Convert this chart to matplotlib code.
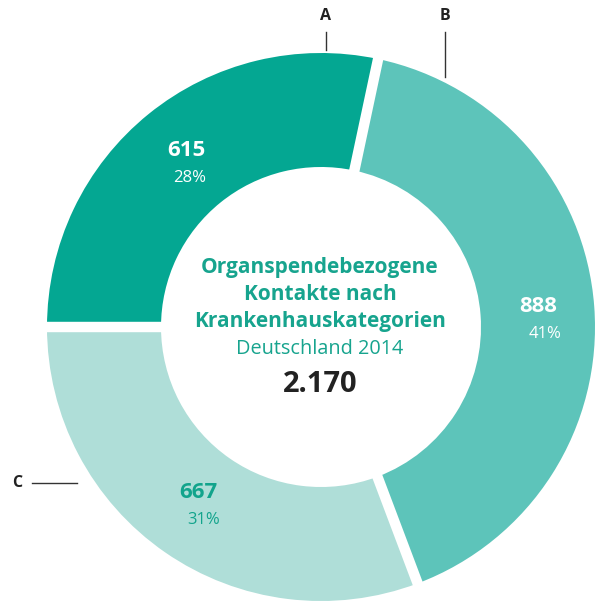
import matplotlib
matplotlib.use("Agg")
import matplotlib.pyplot as plt
import numpy as np

# ---- data ----
categories = ["A", "B", "C"]
values = [615, 888, 667]
percent_labels = ["28%", "41%", "31%"]
total_label = "2.170"
title_lines = ["Organspendebezogene", "Kontakte nach", "Krankenhauskategorien"]
subtitle = "Deutschland 2014"

colors = ["#04A792", "#5DC4BA", "#AFDED8"]
value_text_colors = ["white", "white", "#12A48C"]
teal = "#17A48E"

W, H = 596, 601
fig = plt.figure(figsize=(W / 100, H / 100), dpi=100)
ax = fig.add_axes([0, 0, 1, 1])

def py(y):  # pixel y (from top) -> data y
    return H - y

cx, cy = 321, py(327)
R, r_in = 274, 160
start = 180

wedges, _ = ax.pie(values, colors=colors, startangle=start, counterclock=False,
                   radius=R, center=(cx, cy), frame=True,
                   wedgeprops=dict(width=R - r_in, linewidth=0))
ax.set_xlim(0, W)
ax.set_ylim(0, H)
ax.set_aspect("equal")
ax.axis("off")

# white gaps at wedge boundaries
tot = sum(values)
cum = np.cumsum([0] + values)
for c in cum[:-1]:
    ang = np.deg2rad(start - 360 * c / tot)
    x0, y0 = cx + (r_in - 5) * np.cos(ang), cy + (r_in - 5) * np.sin(ang)
    x1, y1 = cx + (R + 5) * np.cos(ang), cy + (R + 5) * np.sin(ang)
    ax.plot([x0, x1], [y0, y1], color="white", lw=7.5, solid_capstyle="butt", zorder=3)

fam = ["Open Sans", "DejaVu Sans"]

# value labels inside wedges
val_pos = [(186, 151), (538, 306), (198, 493)]
pct_pos = [(190, 178), (545, 334), (204, 520)]
for v, p, vp, pp, col in zip(values, percent_labels, val_pos, pct_pos, value_text_colors):
    ax.text(vp[0], py(vp[1]), f"{v}", ha="center", va="center", fontsize=16,
            fontweight="bold", color=col, family=fam, zorder=5)
    ax.text(pp[0], py(pp[1]), p, ha="center", va="center", fontsize=12,
            fontweight="normal", color=col, family=fam, zorder=5)

# category labels with leader lines
lab_kw = dict(ha="center", va="center", fontsize=11.5, fontweight="bold",
              color="#222222", family=fam)
ax.text(326, py(16), categories[0], **lab_kw)
ax.plot([326, 326], [py(32), py(50)], color="#333333", lw=1)
ax.text(445, py(16), categories[1], **lab_kw)
ax.plot([445, 445], [py(32), py(77)], color="#333333", lw=1)
ax.text(17, py(483), categories[2], **lab_kw)
ax.plot([32, 77], [py(483), py(483)], color="#333333", lw=1)

# center text
ty = [267, 295, 322]
for line, y in zip(title_lines, ty):
    ax.text(320, py(y), line, ha="center", va="center", fontsize=15,
            fontweight="bold", color=teal, family=fam, zorder=5)
ax.text(320, py(349), subtitle, ha="center", va="center", fontsize=14.3,
        fontweight="normal", color=teal, family=fam, zorder=5)
ax.text(320, py(384), total_label, ha="center", va="center", fontsize=21,
        fontweight="bold", color="#222222", family=fam, zorder=5)

fig.savefig("out.png", dpi=100)
